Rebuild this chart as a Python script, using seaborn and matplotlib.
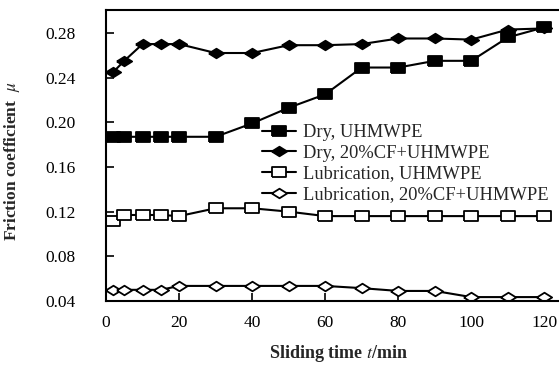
import matplotlib
matplotlib.use("Agg")
import matplotlib.pyplot as plt
import seaborn as sns
import pandas as pd

# ---- data ----
time_min = [2, 5, 10, 15, 20, 30, 40, 50, 60, 70, 80, 90, 100, 110, 120]
dry_uhmwpe = [0.187, 0.187, 0.187, 0.187, 0.187, 0.187, 0.199, 0.213, 0.225,
              0.249, 0.249, 0.255, 0.255, 0.276, 0.285]
dry_cf = [0.245, 0.255, 0.270, 0.270, 0.270, 0.262, 0.262, 0.269, 0.269,
          0.270, 0.275, 0.275, 0.274, 0.283, 0.284]
lub_uhmwpe = [0.112, 0.117, 0.117, 0.117, 0.116, 0.123, 0.123, 0.120, 0.116,
              0.116, 0.116, 0.116, 0.116, 0.116, 0.116]
lub_cf = [0.050, 0.050, 0.050, 0.050, 0.0535, 0.0535, 0.0535, 0.0535, 0.0535,
          0.0515, 0.049, 0.049, 0.0435, 0.0435, 0.0435]
series_labels = ["Dry, UHMWPE", "Dry, 20%CF+UHMWPE",
                 "Lubrication, UHMWPE", "Lubrication, 20%CF+UHMWPE"]
y_ticks = [0.04, 0.08, 0.12, 0.16, 0.20, 0.24, 0.28]
x_ticks = [0, 20, 40, 60, 80, 100, 120]

sns.set_theme(style="ticks")
plt.rcParams["font.family"] = ["Liberation Serif", "DejaVu Serif"]
plt.rcParams["mathtext.fontset"] = "stix"

fig = plt.figure(figsize=(5.59, 3.66), dpi=100)
ax = fig.add_axes([106/559, 1 - 301/366, 1 - 106/559, (301 - 10)/366])

rect = [(-1.5, -1), (1.5, -1), (1.5, 1), (-1.5, 1), (-1.5, -1)]
diam = [(-1.6, 0), (0, 1), (1.6, 0), (0, -1), (-1.6, 0)]
styles = [
    (dry_uhmwpe, rect, "black", 10),
    (dry_cf, diam, "black", 11),
    (lub_uhmwpe, rect, "white", 10),
    (lub_cf, diam, "white", 11),
]
for (vals, mk, fc, ms), lab in zip(styles, series_labels):
    df = pd.DataFrame({"t": time_min, "mu": vals})
    sns.lineplot(data=df, x="t", y="mu", ax=ax, color="black", lw=1.5,
                 marker=mk, markersize=ms, markerfacecolor=fc,
                 markeredgecolor="black", markeredgewidth=1.3, label=lab)

ax.set_xlim(0, 124)
ax.set_ylim(0.04, 0.3005)
ax.set_xticks(x_ticks)
ax.set_xticklabels([str(v) for v in x_ticks])
ax.set_yticks(y_ticks)
ax.set_yticklabels([f"{v:.2f}" for v in y_ticks])
ax.tick_params(axis="both", direction="in", length=6, width=1.2,
               labelsize=12.5, colors="black")
ax.tick_params(axis="y", pad=22)
ax.tick_params(axis="x", pad=10)
ax.spines["right"].set_visible(False)
for s in ["left", "top", "bottom"]:
    ax.spines[s].set_linewidth(1.5)
    ax.spines[s].set_color("black")

ax.set_xlabel(r"Sliding time $\it{t}$/min", fontsize=13, fontweight="bold")
ax.xaxis.set_label_coords(0.512, -0.145)
ax.set_ylabel(r"Friction coefficient  $\mu$", fontsize=12.5, fontweight="bold")
ax.yaxis.set_label_coords(-0.186, 0.48)

leg = ax.legend(loc="upper left", bbox_to_anchor=(0.345, 0.608), frameon=False,
                fontsize=13.3, handlelength=1.8, handletextpad=0.4,
                labelspacing=0.2, borderaxespad=0, borderpad=0)

fig.savefig("out.png", dpi=100)
